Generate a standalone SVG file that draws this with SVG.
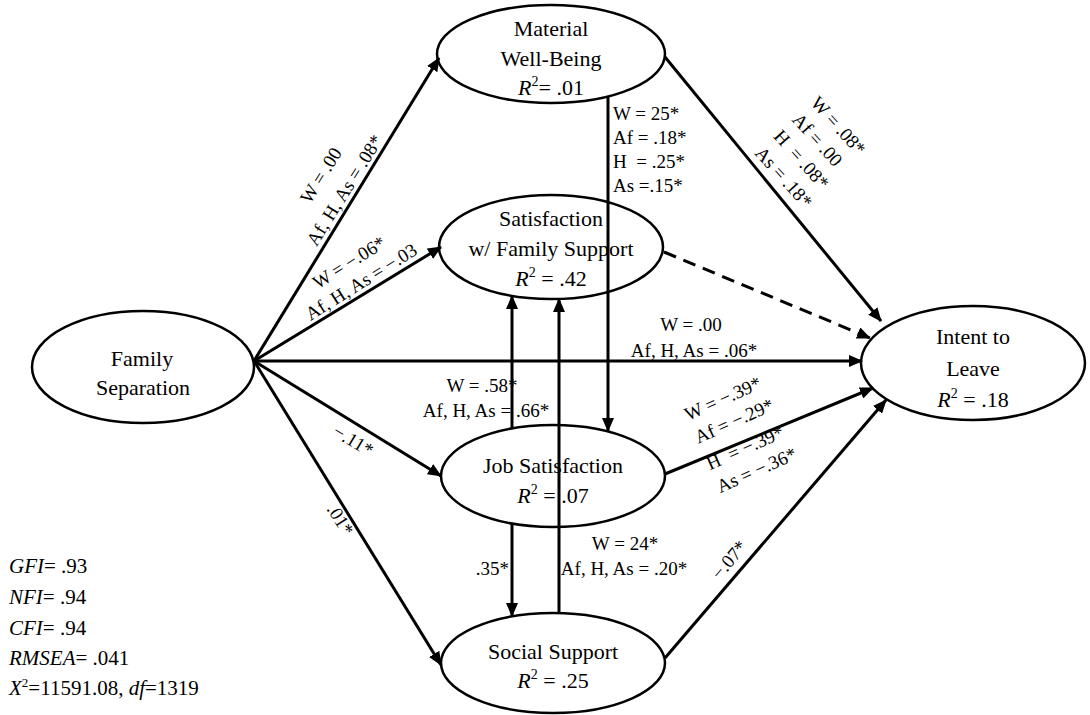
<svg xmlns="http://www.w3.org/2000/svg" width="1090" height="715" viewBox="0 0 1090 715">
<defs>
<style>
.node ellipse{fill:#fff;stroke:#000;stroke-width:2.5}
.nt{font-family:"Liberation Serif","Times New Roman",serif;font-size:22px;fill:#000;text-anchor:middle}
.lb{font-family:"Liberation Serif","Times New Roman",serif;font-size:19px;fill:#000}
.fit{font-family:"Liberation Serif","Times New Roman",serif;font-size:21px;fill:#000}
.c{stroke:#000;stroke-width:3;fill:none;marker-end:url(#ah)}
.d{stroke-dasharray:13 8}
.i{font-style:italic}
</style>
<marker id="ah" markerUnits="userSpaceOnUse" viewBox="0 0 14 12" refX="13" refY="6" markerWidth="14" markerHeight="12" orient="auto">
<path d="M0,0 L14,6 L0,12 z" fill="#000"/>
</marker>
</defs>
<rect width="1090" height="715" fill="#fff"/>

<g id="family-separation" class="node">
<ellipse cx="143" cy="367" rx="111" ry="56"/>
<text class="nt" x="142" y="366">Family</text>
<text class="nt" x="143" y="395">Separation</text>
</g>
<g id="material-well-being" class="node">
<ellipse cx="551" cy="54" rx="114" ry="49"/>
<text class="nt" x="551" y="36">Material</text>
<text class="nt" x="551" y="66">Well-Being</text>
<text class="nt" x="551" y="95"><tspan class="i">R</tspan><tspan font-size="14" dy="-9">2</tspan><tspan dy="9">= .01</tspan></text>
</g>
<g id="satisfaction-family-support" class="node">
<ellipse cx="551" cy="247" rx="112" ry="52"/>
<text class="nt" x="551" y="226">Satisfaction</text>
<text class="nt" x="551" y="256">w/ Family Support</text>
<text class="nt" x="551" y="286"><tspan class="i">R</tspan><tspan font-size="14" dy="-9">2</tspan><tspan dy="9"> = .42</tspan></text>
</g>
<g id="job-satisfaction" class="node">
<ellipse cx="553" cy="476" rx="112" ry="51"/>
<text class="nt" x="553" y="473">Job Satisfaction</text>
<text class="nt" x="553" y="503"><tspan class="i">R</tspan><tspan font-size="14" dy="-9">2</tspan><tspan dy="9"> = .07</tspan></text>
</g>
<g id="social-support" class="node">
<ellipse cx="553" cy="663" rx="112" ry="50"/>
<text class="nt" x="553" y="659">Social Support</text>
<text class="nt" x="553" y="688"><tspan class="i">R</tspan><tspan font-size="14" dy="-9">2</tspan><tspan dy="9"> = .25</tspan></text>
</g>
<g id="intent-to-leave" class="node">
<ellipse cx="973" cy="363" rx="112" ry="57"/>
<text class="nt" x="973" y="344">Intent to</text>
<text class="nt" x="973" y="376">Leave</text>
<text class="nt" x="973" y="407"><tspan class="i">R</tspan><tspan font-size="14" dy="-9">2</tspan><tspan dy="9"> = .18</tspan></text>
</g>

<g id="connectors">
<path class="c" d="M254,361 L439,58"/>
<path class="c" d="M254,361 L441,247"/>
<path class="c" d="M254,361 L862,361"/>
<path class="c" d="M254,361 L441,476"/>
<path class="c" d="M254,361 L441,665"/>
<path class="c" d="M608,96 L608,431"/>
<path class="c" d="M665,57 L881,321"/>
<path class="c d" d="M664,252 L870,338"/>
<path class="c" d="M512,428 L512,296"/>
<path class="c" d="M559,613 L559,299"/>
<path class="c" d="M512,523 L512,616"/>
<path class="c" d="M665,474 L873,388"/>
<path class="c" d="M665,658 L886,400"/>

<g transform="translate(333,183) rotate(-58)">
<text class="lb" text-anchor="middle" x="0" y="-8">W = .00</text>
<text class="lb" text-anchor="middle" x="0" y="20">Af, H, As = .08*</text>
</g>
<g transform="translate(355,272) rotate(-32)">
<text class="lb" text-anchor="middle" x="0" y="-5">W = −.06*</text>
<text class="lb" text-anchor="middle" x="0" y="18">Af, H, As = −.03</text>
</g>
<text class="lb" text-anchor="middle" transform="translate(350,446) rotate(31)">−.11*</text>
<text class="lb" text-anchor="middle" transform="translate(335,523) rotate(58)">.01*</text>
<text class="lb" text-anchor="middle" x="691" y="331">W = .00</text>
<text class="lb" text-anchor="middle" x="694" y="357">Af, H, As = .06*</text>
<text class="lb" xml:space="preserve" x="613" y="120">W = 25*</text>
<text class="lb" xml:space="preserve" x="613" y="144">Af = .18*</text>
<text class="lb" xml:space="preserve" x="613" y="168">H  = .25*</text>
<text class="lb" xml:space="preserve" x="613" y="192">As =.15*</text>
<g transform="translate(784,178) rotate(48)">
<text class="lb" xml:space="preserve" x="-38" y="-69">W = .08*</text>
<text class="lb" xml:space="preserve" x="-38" y="-44">Af = .00</text>
<text class="lb" xml:space="preserve" x="-38" y="-19">H  = .08*</text>
<text class="lb" xml:space="preserve" x="-38" y="6">As = .18*</text>
</g>
<text class="lb" text-anchor="middle" x="482" y="392">W = .58*</text>
<text class="lb" text-anchor="middle" x="486" y="417">Af, H, As =  .66*</text>
<g transform="translate(688,421) rotate(-24)">
<text class="lb" xml:space="preserve" x="0" y="0">W = −.39*</text>
<text class="lb" xml:space="preserve" x="0" y="25">Af = −.29*</text>
<text class="lb" xml:space="preserve" x="0" y="54">H  = −.39*</text>
<text class="lb" xml:space="preserve" x="0" y="79">As = −.36*</text>
</g>
<text class="lb" text-anchor="end" x="509" y="575">.35*</text>
<text class="lb" text-anchor="middle" x="625" y="550">W = 24*</text>
<text class="lb" text-anchor="middle" x="624" y="575">Af, H, As = .20*</text>
<text class="lb" text-anchor="middle" transform="translate(734,564) rotate(-50)">−.07*</text>
</g>

<g id="fit-statistics">
<text class="fit" x="9" y="573"><tspan class="i">GFI</tspan>= .93</text>
<text class="fit" x="9" y="604"><tspan class="i">NFI</tspan>= .94</text>
<text class="fit" x="9" y="635"><tspan class="i">CFI</tspan>= .94</text>
<text class="fit" x="9" y="665"><tspan class="i">RMSEA</tspan>= .041</text>
<text class="fit" x="9" y="695"><tspan class="i">X</tspan><tspan font-size="13" dy="-8">2</tspan><tspan dy="8">=11591.08, </tspan><tspan class="i">df</tspan>=1319</text>
</g>
</svg>
